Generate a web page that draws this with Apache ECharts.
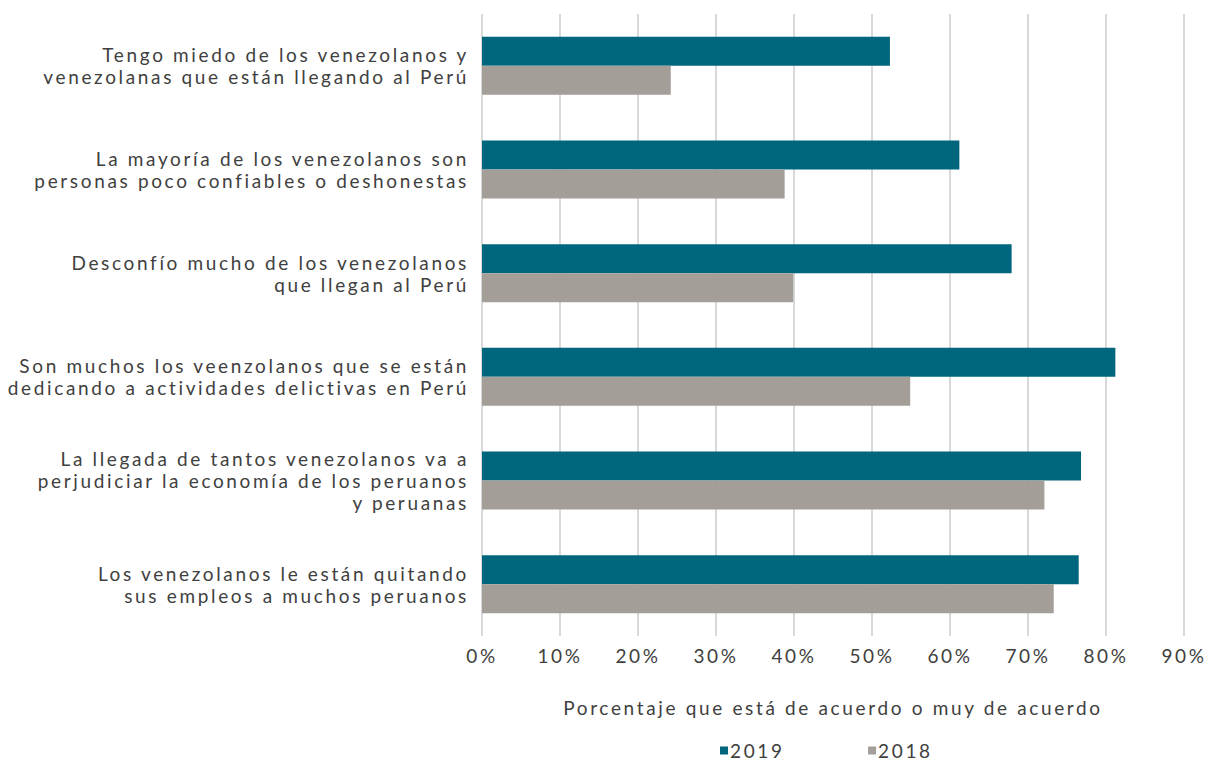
<!DOCTYPE html>
<html>
<head>
<meta charset="utf-8">
<script src="https://cdn.jsdelivr.net/npm/echarts@6/dist/echarts.min.js"></script>
<style>
  html, body { margin: 0; padding: 0; background: #fff; }
  #chart { width: 1215px; height: 763px; }
  #chart text { letter-spacing: 2.65px; }
</style>
</head>
<body>
<div id="chart"></div>
<script>
  // statements, top to bottom
  const categories = [
    'Tengo miedo de los venezolanos y\nvenezolanas que están llegando al Perú',
    'La mayoría de los venezolanos son\npersonas poco confiables o deshonestas',
    'Desconfío mucho de los venezolanos\nque llegan al Perú',
    'Son muchos los veenzolanos que se están\ndedicando a actividades delictivas en Perú',
    'La llegada de tantos venezolanos va a\nperjudiciar la economía de los peruanos\ny peruanas',
    'Los venezolanos le están quitando\nsus empleos a muchos peruanos'
  ]
  const values2019 = [52.3, 61.2, 67.9, 81.2, 76.8, 76.5]
  const values2018 = [24.2, 38.8, 39.9, 54.9, 72.1, 73.3]
  const xTicks = [0, 10, 20, 30, 40, 50, 60, 70, 80, 90]

  const textColor = '#404040'
  const font = 'Lato'

  let chart = echarts.init(document.getElementById('chart'), null, { renderer: 'svg' })
  let option = {
    animation: false,
    textStyle: { fontFamily: font },
    grid: {
      left: 482,
      right: 31,
      top: 14,
      bottom: 127
    },
    legend: {
      data: ['2019', '2018'],
      left: 715,
      top: 736,
      icon: 'rect',
      itemWidth: 8,
      itemHeight: 8,
      itemGap: 94,
      textStyle: { fontSize: 19, color: textColor, fontFamily: font, padding: [0, 0, 0, -3] }
    },
    xAxis: {
      type: 'value',
      min: xTicks[0],
      max: xTicks[xTicks.length - 1],
      interval: 10,
      name: 'Porcentaje que está de acuerdo o muy de acuerdo',
      nameLocation: 'middle',
      nameGap: 62,
      nameTextStyle: { fontSize: 19, color: textColor, fontFamily: font },
      axisLine: { show: false },
      axisTick: { show: false },
      axisLabel: {
        formatter: '{value}%',
        fontSize: 19,
        color: textColor,
        fontFamily: font,
        margin: 10
      },
      splitLine: { lineStyle: { color: '#d9d9d9', width: 2 } }
    },
    yAxis: {
      type: 'category',
      inverse: true,
      data: categories,
      axisLine: { show: false },
      axisTick: { show: false },
      axisLabel: {
        fontSize: 19,
        lineHeight: 22,
        color: textColor,
        fontFamily: font,
        margin: 13,
        align: 'right',
        padding: [0, 0, 3, 0]
      }
    },
    series: [
      {
        name: '2019',
        type: 'bar',
        data: values2019,
        barWidth: 29,
        barGap: '0%',
        itemStyle: { color: '#00667d' }
      },
      {
        name: '2018',
        type: 'bar',
        data: values2018,
        barWidth: 29,
        barGap: '0%',
        itemStyle: { color: '#a39e98' }
      }
    ]
  }
  chart.setOption(option)
</script>
</body>
</html>
